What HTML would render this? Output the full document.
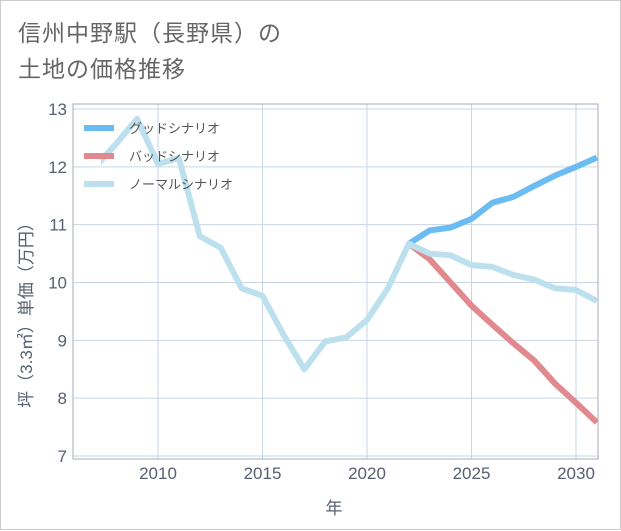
<!DOCTYPE html>
<html><head><meta charset="utf-8"><style>
body{margin:0;background:#fff;}
#wrap{position:relative;width:619px;height:528px;border:1px solid #ccc;background:#fff;font-family:"Liberation Sans","Noto Sans CJK JP",sans-serif;}
h1{position:absolute;left:17px;top:14px;margin:0;font-size:23px;font-weight:normal;color:#666;line-height:36px;letter-spacing:1px;}
</style></head><body>
<div id="wrap">
<h1>信州中野駅（長野県）の<br>土地の価格推移</h1>
<svg id="c" width="621" height="530" style="position:absolute;left:0;top:0"></svg>
</div>
<script>
const years=[2007,2008,2009,2010,2011,2012,2013,2014,2015,2016,2017,2018,2019,2020,2021,2022,2023,2024,2025,2026,2027,2028,2029,2030,2031];
const normal=[12.0,12.4,12.83,12.05,12.15,10.8,10.6,9.9,9.77,9.1,8.5,8.98,9.05,9.35,9.9,10.67,10.5,10.47,10.3,10.27,10.13,10.05,9.9,9.87,9.68];
const futureYears=[2022,2023,2024,2025,2026,2027,2028,2029,2030,2031];
const good=[10.67,10.9,10.95,11.1,11.38,11.48,11.67,11.85,12.0,12.16];
const bad=[10.67,10.4,10.0,9.6,9.27,8.95,8.65,8.25,7.92,7.58];
const yTicks=[7,8,9,10,11,12,13];
const xTicks=[2010,2015,2020,2025,2030];
const L=72,R=597,T=103,B=458;
const x=v=>157+(v-2010)*20.9;
const y=v=>108+(13-v)*57.83;
const svg=document.getElementById('c');
const NS='http://www.w3.org/2000/svg';
function mk(t,a,p){const e=document.createElementNS(NS,t);for(const k in a)e.setAttribute(k,a[k]);(p||svg).appendChild(e);return e;}
const clip=mk('clipPath',{id:'pc'});mk('rect',{x:100,y:T,width:R-100,height:B-T},clip);
for(const v of yTicks){const g=mk('line',{x1:L,x2:R,y1:y(v),y2:y(v),stroke:'#c9d6e3','stroke-width':1});

const t=mk('text',{x:L-6,y:y(v)+6,'text-anchor':'end','font-size':17,fill:'#556070'});t.textContent=v;
}
for(const v of xTicks){const g=mk('line',{x1:x(v),x2:x(v),y1:T,y2:B,stroke:'#c9d6e3','stroke-width':1});

const t=mk('text',{x:x(v),y:B+20,'text-anchor':'middle','font-size':17,fill:'#556070'});t.textContent=v;
}
const fr=mk('rect',{x:L,y:T,width:R-L,height:B-T,fill:'none',stroke:'#aab','stroke-width':1});

function line(xs,ys,col,name){const p=mk('polyline',{points:xs.map((v,i)=>x(v)+','+y(ys[i])).join(' '),fill:'none',stroke:col,'stroke-width':6,'stroke-linejoin':'round','clip-path':'url(#pc)'});
}
line(futureYears,bad,'#e08a90','bad-scenario-line');
line(futureYears,good,'#6bbcf2','good-scenario-line');
line(years,normal,'#bde0ee','normal-scenario-line');
const leg=[['グッドシナリオ','#6bbcf2'],['バッドシナリオ','#e08a90'],['ノーマルシナリオ','#bde0ee']];
leg.forEach((l,i)=>{const yy=127+i*28;
const s=mk('line',{x1:83,x2:113,y1:yy,y2:yy,stroke:l[1],'stroke-width':6});

const t=mk('text',{x:128,y:yy+5,'font-size':13,fill:'#555'});t.textContent=l[0];
});
const xt=mk('text',{x:333,y:513,'text-anchor':'middle','font-size':17,fill:'#556070'});xt.textContent='年';

const yt=mk('text',{x:0,y:0,'text-anchor':'middle','font-size':17,fill:'#556070',transform:'translate(31,310) rotate(-90)'});yt.textContent='坪（3.3㎡）単価（万円）';

</script>
</body></html>
